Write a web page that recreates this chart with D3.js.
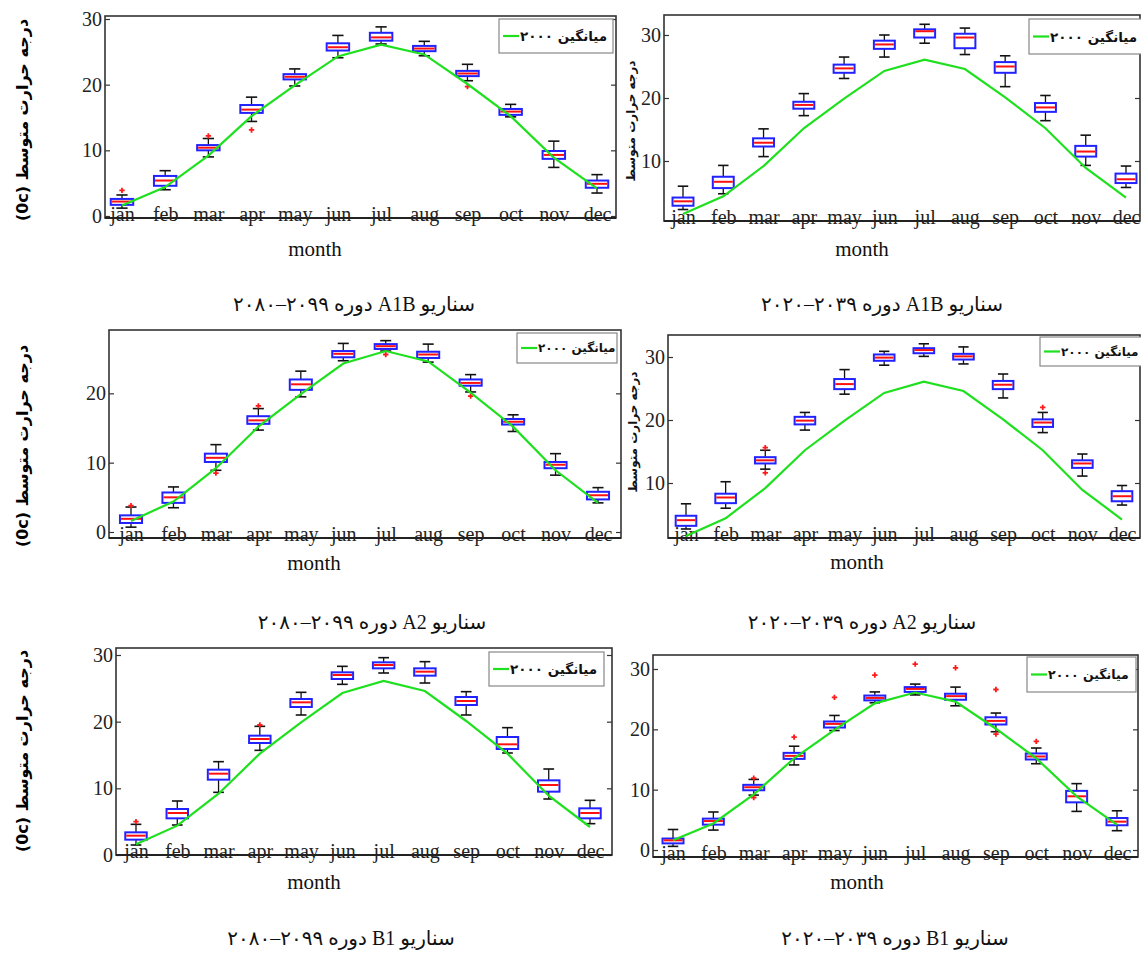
<!DOCTYPE html>
<html>
<head>
<meta charset="utf-8">
<script src="https://cdn.jsdelivr.net/npm/d3@7"></script>
<style>
  body { margin: 0; background: #fff; }
</style>
</head>
<body>
<div id="chart"></div>
<script>
const W = 1141
const H = 953

// data
const months = ["jan", "feb", "mar", "apr", "may", "jun", "jul", "aug", "sep", "oct", "nov", "dec"]
const avg2000 = [1.6, 4.4, 9.2, 15.2, 19.9, 24.3, 26.1, 24.6, 20.1, 15.2, 8.9, 4.2]
const yTickVals = [0, 10, 20, 30]
const legendLabel = "میانگین ۲۰۰۰"
const yTitle = "درجه حرارت متوسط (0c)"
const yTitleShort = "درجه حرارت متوسط"
const xTitle = "month"

// A1B 2080-2099
const a1b80Lo  = [1.2, 4.0, 9.0, 14.4, 19.8, 24.1, 26.2, 24.4, 20.6, 15.1, 7.4, 3.5]
const a1b80Q1  = [1.7, 4.6, 10.0, 15.7, 20.8, 25.2, 26.7, 25.1, 21.3, 15.4, 8.7, 4.3]
const a1b80Med = [2.2, 5.4, 10.4, 16.2, 21.2, 25.7, 27.2, 25.5, 21.7, 15.9, 9.3, 4.9]
const a1b80Q3  = [2.6, 6.1, 10.8, 16.9, 21.6, 26.3, 27.9, 25.9, 22.1, 16.3, 9.9, 5.4]
const a1b80Hi  = [3.2, 6.9, 11.8, 18.1, 22.4, 27.5, 28.8, 26.6, 23.1, 17.0, 11.4, 6.3]
const a1b80Out = [[1, 3.9], [3, 12.2], [4, 13.1], [9, 19.7]]

// A1B 2020-2039
const a1b20Lo  = [2.3, 4.8, 10.7, 17.2, 23.1, 26.5, 28.7, 26.9, 21.8, 16.4, 9.3, 5.8]
const a1b20Q1  = [2.9, 5.7, 12.3, 18.3, 24.0, 27.8, 29.6, 27.9, 24.0, 17.8, 10.7, 6.5]
const a1b20Med = [3.6, 6.7, 12.9, 18.9, 24.7, 28.5, 30.6, 29.6, 25.0, 18.5, 11.5, 7.1]
const a1b20Q3  = [4.2, 7.5, 13.6, 19.4, 25.3, 29.1, 30.9, 30.2, 25.7, 19.2, 12.4, 8.0]
const a1b20Hi  = [6.0, 9.3, 15.1, 20.7, 26.5, 30.0, 31.7, 31.1, 26.7, 20.4, 14.1, 9.2]
const a1b20Out = []

// A2 2080-2099
const a280Lo  = [0.7, 3.5, 8.9, 14.7, 19.5, 24.7, 26.1, 24.5, 20.2, 14.5, 8.2, 4.2]
const a280Q1  = [1.3, 4.2, 10.1, 15.6, 20.5, 25.2, 26.4, 25.1, 21.1, 15.5, 9.2, 4.7]
const a280Med = [1.9, 5.0, 10.7, 16.1, 21.3, 25.7, 26.8, 25.6, 21.5, 15.9, 9.7, 5.3]
const a280Q3  = [2.4, 5.7, 11.3, 16.7, 22.0, 26.1, 27.1, 26.0, 22.0, 16.3, 10.1, 5.8]
const a280Hi  = [3.6, 6.5, 12.6, 17.8, 23.2, 27.2, 27.6, 27.1, 22.7, 16.9, 11.3, 6.4]
const a280Out = [[1, 3.8], [3, 8.5], [4, 18.2], [7, 25.6], [9, 19.6]]

// A2 2020-2039
const a220Lo  = [2.7, 6.0, 12.2, 18.4, 24.1, 28.7, 30.1, 28.9, 23.5, 18.0, 11.1, 6.5]
const a220Q1  = [3.2, 6.8, 13.1, 19.3, 24.9, 29.4, 30.6, 29.6, 24.9, 18.9, 12.4, 7.1]
const a220Med = [4.1, 7.7, 13.6, 19.9, 25.7, 29.9, 31.1, 30.1, 25.6, 19.6, 13.1, 7.9]
const a220Q3  = [4.8, 8.3, 14.1, 20.5, 26.5, 30.4, 31.4, 30.5, 26.2, 20.1, 13.6, 8.7]
const a220Hi  = [6.7, 10.2, 15.2, 21.2, 28.0, 30.9, 32.1, 31.6, 27.3, 21.2, 14.6, 9.6]
const a220Out = [[3, 15.6], [3, 11.6], [10, 22.0]]

// B1 2080-2099
const b180Lo  = [1.5, 4.5, 9.4, 15.7, 21.0, 25.6, 27.3, 25.8, 21.0, 15.3, 8.4, 4.7]
const b180Q1  = [2.3, 5.5, 11.3, 16.8, 22.2, 26.4, 28.0, 26.9, 22.5, 15.9, 9.5, 5.5]
const b180Med = [2.9, 6.3, 12.2, 17.4, 22.9, 27.0, 28.5, 27.5, 23.1, 16.6, 10.5, 6.3]
const b180Q3  = [3.4, 6.9, 12.8, 17.9, 23.4, 27.4, 28.9, 28.0, 23.7, 17.7, 11.2, 7.0]
const b180Hi  = [4.6, 8.1, 14.0, 19.3, 24.4, 28.3, 29.6, 29.0, 24.5, 19.1, 12.9, 8.2]
const b180Out = [[1, 5.0], [4, 19.5]]

// B1 2020-2039
const b120Lo  = [0.6, 3.3, 9.1, 14.1, 19.8, 24.4, 25.7, 23.9, 19.6, 14.3, 6.4, 3.2]
const b120Q1  = [1.1, 4.2, 9.9, 15.1, 20.3, 24.8, 26.2, 24.9, 20.8, 15.0, 7.9, 4.1]
const b120Med = [1.6, 4.8, 10.4, 15.6, 20.9, 25.2, 26.7, 25.5, 21.4, 15.5, 8.9, 4.7]
const b120Q3  = [1.9, 5.2, 10.8, 16.1, 21.3, 25.6, 27.0, 25.9, 22.0, 16.0, 9.8, 5.3]
const b120Hi  = [3.4, 6.3, 11.7, 17.2, 22.3, 26.2, 27.5, 27.0, 22.7, 16.9, 11.0, 6.5]
const b120Out = [[3, 11.9], [3, 8.7], [4, 18.7], [5, 25.3], [6, 29.0], [7, 30.8], [8, 30.2], [9, 26.6], [9, 19.2], [10, 18.0]]

const captions = [
    "سناریو A1B دوره ۲۰۹۹–۲۰۸۰",
    "سناریو A1B دوره ۲۰۳۹–۲۰۲۰",
    "سناریو A2 دوره ۲۰۹۹–۲۰۸۰",
    "سناریو A2 دوره ۲۰۳۹–۲۰۲۰",
    "سناریو B1 دوره ۲۰۹۹–۲۰۸۰",
    "سناریو B1 دوره ۲۰۳۹–۲۰۲۰"
]

// layout of the six panels (pixels)
const panels = [
    { lo: a1b80Lo, q1: a1b80Q1, med: a1b80Med, q3: a1b80Q3, hi: a1b80Hi, out: a1b80Out, cap: captions[0],
      l: 105, r: 616, t: 16, b: 218, x1: 122, x12: 597, y0: 216, y30: 19,
      leg: [499, 19, 114, 34], legFs: 13.5, capPos: [354, 311], monthPos: [315, 256], yLab: "left" },
    { lo: a1b20Lo, q1: a1b20Q1, med: a1b20Med, q3: a1b20Q3, hi: a1b20Hi, out: a1b20Out, cap: captions[1],
      l: 664, r: 1140, t: 15, b: 221, x1: 683, x12: 1126, y0: 224, y30: 35,
      leg: [1029, 19, 120, 35], legFs: 13.5, capPos: [882, 311], monthPos: [862, 256], yLab: [631, 121] },
    { lo: a280Lo, q1: a280Q1, med: a280Med, q3: a280Q3, hi: a280Hi, out: a280Out, cap: captions[2],
      l: 109, r: 621, t: 330, b: 538, x1: 131, x12: 598, y0: 532, y30: 324,
      leg: [517, 333, 100, 30], legFs: 12, capPos: [372, 629], monthPos: [314, 570], yLab: "left" },
    { lo: a220Lo, q1: a220Q1, med: a220Med, q3: a220Q3, hi: a220Hi, out: a220Out, cap: captions[3],
      l: 668, r: 1140, t: 335, b: 538, x1: 686, x12: 1122, y0: 546, y30: 357,
      leg: [1040, 337, 105, 29], legFs: 12, capPos: [862, 629], monthPos: [857, 569], yLab: [633, 432] },
    { lo: b180Lo, q1: b180Q1, med: b180Med, q3: b180Q3, hi: b180Hi, out: b180Out, cap: captions[4],
      l: 116, r: 612, t: 648, b: 855, x1: 136, x12: 590, y0: 855, y30: 655,
      leg: [489, 652, 115, 34], legFs: 13.5, capPos: [341, 945], monthPos: [314, 889], yLab: "left" },
    { lo: b120Lo, q1: b120Q1, med: b120Med, q3: b120Q3, hi: b120Hi, out: b120Out, cap: captions[5],
      l: 653, r: 1138, t: 655, b: 857, x1: 673, x12: 1117, y0: 850, y30: 669,
      leg: [1027, 657, 109, 35], legFs: 12.5, capPos: [895, 945], monthPos: [857, 889], yLab: null }
]

const leftTitleY = [120, 446, 751]

const serif = "'Liberation Serif', 'Times New Roman', 'DejaVu Sans', serif"
const sansB = "'DejaVu Sans', sans-serif"

const svg = d3.select("#chart")
    .append("svg")
    .attr("width", W)
    .attr("height", H)
    .style("background", "#fff")

// big y titles on the left of each row
leftTitleY.forEach(cy => {
    svg.append("text")
        .attr("transform", `translate(22,${cy}) rotate(-90)`)
        .attr("text-anchor", "middle")
        .attr("dominant-baseline", "central")
        .attr("direction", "rtl")
        .style("font-family", sansB)
        .style("font-weight", "bold")
        .style("font-size", "16px")
        .text(yTitle)
})

panels.forEach(p => {
    const g = svg.append("g")

    const x = d3.scaleLinear().domain([1, 12]).range([p.x1, p.x12])
    const y = d3.scaleLinear().domain([0, 30]).range([p.y0, p.y30])
    const step = x(2) - x(1)
    const bw = step * 0.52
    const cw = step * 0.26

    const yMin = y.invert(p.b) - 0.3
    const yMax = y.invert(p.t) + 0.3
    const ticks = yTickVals.filter(v => v >= yMin && v <= yMax)

    // left axis
    const ax = g.append("g")
        .attr("transform", `translate(${p.l},0)`)
        .call(d3.axisLeft(y).tickValues(ticks).tickSize(-5).tickPadding(3).tickFormat(d3.format("d")))
    ax.select(".domain").remove()
    ax.selectAll("line").attr("stroke", "#333").attr("stroke-width", 1.2)
    ax.selectAll("text")
        .style("font-family", serif)
        .style("font-size", "20px")
        .attr("fill", "#222")

    // right axis ticks
    const axr = g.append("g")
        .attr("transform", `translate(${p.r},0)`)
        .call(d3.axisRight(y).tickValues(ticks).tickSize(-5).tickFormat(""))
    axr.select(".domain").remove()
    axr.selectAll("line").attr("stroke", "#333").attr("stroke-width", 1.2)

    // month labels sit on the axis line
    const axb = g.append("g")
        .attr("transform", `translate(0,${p.b})`)
        .call(d3.axisBottom(x).tickValues(d3.range(1, 13)).tickSize(0).tickFormat(d => months[d - 1]))
    axb.select(".domain").remove()
    axb.selectAll("text")
        .attr("y", 3)
        .attr("dy", 0)
        .style("font-family", serif)
        .style("font-size", "20px")
        .attr("fill", "#222")

    // frame
    g.append("rect")
        .attr("x", p.l).attr("y", p.t)
        .attr("width", p.r - p.l).attr("height", p.b - p.t)
        .attr("fill", "none")
        .attr("stroke", "#333")
        .attr("stroke-width", 1.6)
    g.append("line")
        .attr("x1", p.l).attr("x2", p.r).attr("y1", p.b).attr("y2", p.b)
        .attr("stroke", "#222").attr("stroke-width", 2)

    // boxes
    const idx = d3.range(12)
    const boxes = g.append("g").selectAll("g").data(idx).join("g")

    boxes.append("line") // whisker up
        .attr("x1", i => x(i + 1)).attr("x2", i => x(i + 1))
        .attr("y1", i => y(p.q3[i])).attr("y2", i => y(p.hi[i]))
        .attr("stroke", "#111").attr("stroke-width", 1.3)
    boxes.append("line") // whisker down
        .attr("x1", i => x(i + 1)).attr("x2", i => x(i + 1))
        .attr("y1", i => y(p.q1[i])).attr("y2", i => y(p.lo[i]))
        .attr("stroke", "#111").attr("stroke-width", 1.3)
    boxes.append("line")
        .attr("x1", i => x(i + 1) - cw / 2).attr("x2", i => x(i + 1) + cw / 2)
        .attr("y1", i => y(p.hi[i])).attr("y2", i => y(p.hi[i]))
        .attr("stroke", "#111").attr("stroke-width", 1.6)
    boxes.append("line")
        .attr("x1", i => x(i + 1) - cw / 2).attr("x2", i => x(i + 1) + cw / 2)
        .attr("y1", i => y(p.lo[i])).attr("y2", i => y(p.lo[i]))
        .attr("stroke", "#111").attr("stroke-width", 1.6)
    boxes.append("rect")
        .attr("x", i => x(i + 1) - bw / 2)
        .attr("y", i => y(p.q3[i]))
        .attr("width", bw)
        .attr("height", i => y(p.q1[i]) - y(p.q3[i]))
        .attr("fill", "#fff")
        .attr("stroke", "#2222ff")
        .attr("stroke-width", 2)
    boxes.append("line")
        .attr("x1", i => x(i + 1) - bw / 2 + 1).attr("x2", i => x(i + 1) + bw / 2 - 1)
        .attr("y1", i => y(p.med[i])).attr("y2", i => y(p.med[i]))
        .attr("stroke", "#ff1010").attr("stroke-width", 2)

    // outliers
    g.append("g").selectAll("path").data(p.out).join("path")
        .attr("d", d3.symbol(d3.symbolCross, 16))
        .attr("transform", d => `translate(${x(d[0])},${y(d[1])})`)
        .attr("fill", "#ff1a1a")

    // 2000 average line
    const line = d3.line().x((d, i) => x(i + 1)).y(d => y(d))
    g.append("path")
        .datum(avg2000)
        .attr("d", line)
        .attr("fill", "none")
        .attr("stroke", "#1ee01e")
        .attr("stroke-width", 2.2)

    // legend
    const [lx, ly, lw, lh] = p.leg
    g.append("rect")
        .attr("x", lx).attr("y", ly).attr("width", lw).attr("height", lh)
        .attr("fill", "#fff").attr("stroke", "#888").attr("stroke-width", 1.2)
    g.append("line")
        .attr("x1", lx + 4).attr("x2", lx + 20)
        .attr("y1", ly + lh / 2).attr("y2", ly + lh / 2)
        .attr("stroke", "#1ee01e").attr("stroke-width", 2.2)
    g.append("text")
        .attr("x", lx + 21).attr("y", ly + lh / 2)
        .attr("dominant-baseline", "central")
        .style("font-family", sansB)
        .style("font-weight", "bold")
        .style("font-size", p.legFs + "px")
        .attr("fill", "#111")
        .text(legendLabel)

    // x title
    g.append("text")
        .attr("x", p.monthPos[0]).attr("y", p.monthPos[1])
        .attr("text-anchor", "middle")
        .style("font-family", serif)
        .style("font-size", "21px")
        .attr("fill", "#111")
        .text(xTitle)

    // caption under the panel
    g.append("text")
        .attr("x", p.capPos[0]).attr("y", p.capPos[1])
        .attr("text-anchor", "middle")
        .attr("direction", "rtl")
        .style("font-family", serif)
        .style("font-size", "20px")
        .attr("fill", "#111")
        .text(p.cap)

    // small y title of the right-hand panels
    if (Array.isArray(p.yLab)) {
        g.append("text")
            .attr("transform", `translate(${p.yLab[0]},${p.yLab[1]}) rotate(-90)`)
            .attr("text-anchor", "middle")
            .attr("dominant-baseline", "central")
            .attr("direction", "rtl")
            .style("font-family", sansB)
            .style("font-weight", "bold")
            .style("font-size", "12px")
            .attr("fill", "#111")
            .text(yTitleShort)
    }
})
</script>
</body>
</html>
